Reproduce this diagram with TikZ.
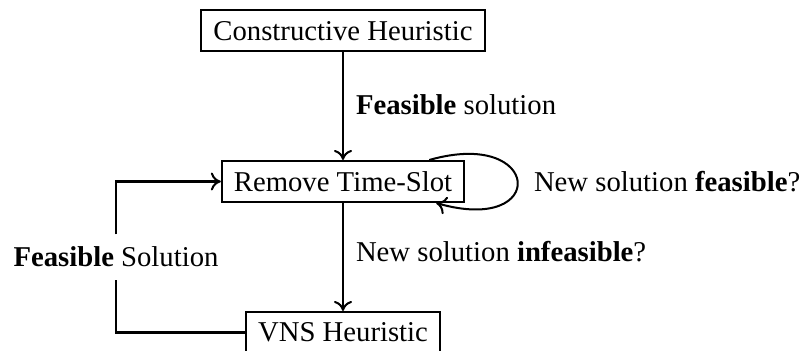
\documentclass[tikz,border=0pt]{standalone}
\usepackage{fontspec}
\setmainfont{Liberation Serif}
\usetikzlibrary{arrows.meta}
\begin{document}
\begin{tikzpicture}[x=0.3484pt,y=-0.3484pt,
  font=\fontsize{10pt}{12pt}\selectfont,
  line width=0.7pt,
  >={Computer Modern Rightarrow[length=3.5pt,width=6.3pt]},
  procbox/.style={draw,rectangle,inner xsep=4.18pt,inner ysep=0pt,minimum height=14.28pt},
  lbl/.style={anchor=base west,inner sep=0pt}]
\useasboundingbox (0,0) rectangle (803,351);
\node[procbox] (C) at (343,30.7) {Constructive Heuristic};
\node[procbox] (R) at (343,181.5) {Remove Time-Slot};
\node[procbox] (V) at (343,332.5) {VNS Heuristic};
\node[inner sep=0pt,minimum height=14.98pt] (fb) at (116,257) {\textbf{Feasible} Solution};
\draw[->] (C.south) -- (R.north);
\draw[->] (R.south) -- (V.north);
\draw (V.west) -| (fb.south);
\draw[->] (fb.north) |- (R.west);
\draw[->] (R.14) to[out=16,in=-16,looseness=6.9] (R.-13);
\node[lbl] (l1) at (355,115) {\textbf{Feasible} solution};
\node[lbl] (l2) at (533,192) {New solution \textbf{feasible}?};
\node[lbl] (l3) at (355,261.7) {New solution \textbf{infeasible}?};
\end{tikzpicture}
\end{document}
